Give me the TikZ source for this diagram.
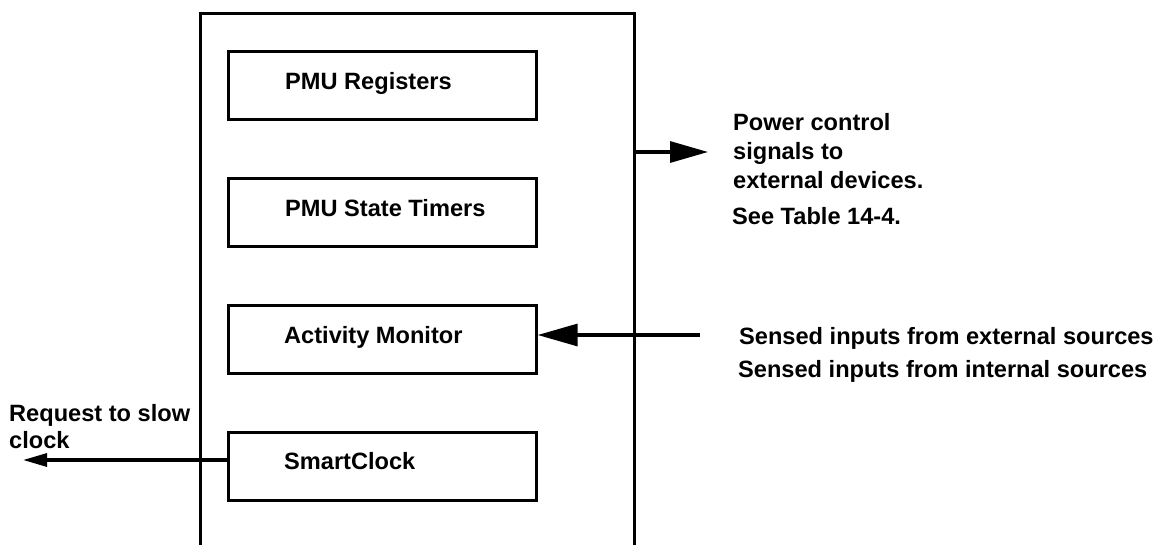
\documentclass[tikz,border=0pt]{standalone}
\usepackage{fontspec}
\setmainfont{Liberation Sans}
\usetikzlibrary{arrows.meta}
\begin{document}
\begin{tikzpicture}[x=1pt,y=1pt,
  every node/.style={font=\fontsize{23.6}{28}\selectfont\bfseries},
  blk/.style={draw,line width=2.7pt,minimum width=308pt,minimum height=68pt,inner sep=0pt,anchor=north west},
  lbl/.style={anchor=base west,inner sep=0pt},
  frame/.style={line width=3pt},
  arr/.style={line width=3.2pt}]
\useasboundingbox (0,0) rectangle (1160,-544);
% outer frame (open at bottom)
\draw[frame] (200,-546) -- (200,-13) -- (634,-13) -- (634,-546);
\coordinate (fr) at (634,-152);
% blocks
\node[blk] (reg) at (227,-50) {};
\node[blk] (tim) at (227,-177) {};
\node[blk] (am)  at (227,-304) {};
\node[blk] (sc)  at (227,-431) {};
\node[lbl] (treg) at (285,-89)  {PMU Registers};
\node[lbl] (ttim) at (285,-216) {PMU State Timers};
\node[lbl] (tam)  at (284,-343) {Activity Monitor};
\node[lbl] (tsc)  at (284,-469) {SmartClock};
% right text
\node[lbl] (p1) at (733,-130) {Power control};
\node[lbl] (p2) at (733,-159) {signals to};
\node[lbl] (p3) at (733,-188) {external devices.};
\node[lbl] (p4) at (732,-224) {See Table 14-4.};
\node[lbl] (s1) at (739,-344) {Sensed inputs from external sources};
\node[lbl] (s2) at (738,-377) {Sensed inputs from internal sources};
\node[lbl] (r1) at (9,-421) {Request to slow};
\node[lbl] (r2) at (9,-448) {clock};
% arrows
\coordinate (c1) at (708,-152);
\coordinate (c2) at (700,-335);
\coordinate (c3) at (23,-460);
\draw[arr,-{Triangle[length=38pt,width=21pt]}] (fr) -- (c1);
\draw[arr,-{Triangle[length=40pt,width=22pt]}] (c2) -- (c2 -| am.east);
\draw[arr,-{Triangle[length=24pt,width=13pt]}] (c3 -| sc.west) -- (c3);
\end{tikzpicture}
\end{document}
